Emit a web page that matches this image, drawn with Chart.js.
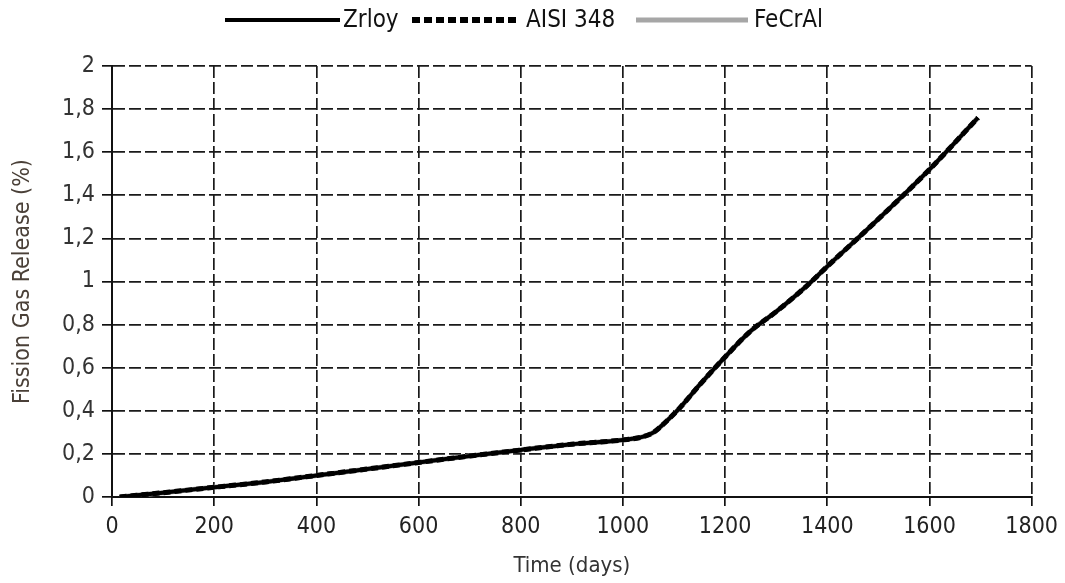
<!DOCTYPE html>
<html>
<head>
<meta charset="utf-8">
<script src="https://cdn.jsdelivr.net/npm/chart.js@4/dist/chart.umd.min.js"></script>
<style>
  html, body { margin: 0; padding: 0; background: #fff; }
  #wrap { width: 1065px; height: 583px; position: relative; }
  #legend {
    position: absolute; top: 0; left: 0; width: 1065px; height: 40px;
    font-family: "DejaVu Sans Condensed", "Liberation Sans", sans-serif;
    font-size: 24px; color: #111;
  }
  #legend svg, #legend span { position: absolute; }
  #legend svg { top: 15px; }
  #legend span { top: 4px; line-height: 30px; }
</style>
</head>
<body>
<div id="wrap">
  <div id="legend"></div>
  <canvas id="fgr"></canvas>
</div>
<script>
// values
const days = [15, 100, 200, 300, 400, 500, 600, 700, 800, 900, 1000, 1040, 1060, 1080, 1110, 1150, 1200, 1250, 1300, 1360, 1400, 1500, 1600, 1695];
const zrloy = [0, 0.02, 0.045, 0.07, 0.1, 0.13, 0.16, 0.19, 0.218, 0.245, 0.265, 0.28, 0.3, 0.34, 0.41, 0.52, 0.65, 0.77, 0.86, 0.98, 1.07, 1.29, 1.52, 1.76];
const aisi348 = [0, 0.02, 0.045, 0.07, 0.1, 0.13, 0.16, 0.19, 0.218, 0.245, 0.265, 0.28, 0.3, 0.34, 0.41, 0.52, 0.65, 0.77, 0.86, 0.98, 1.07, 1.29, 1.52, 1.76];
const fecral = [0, 0.02, 0.045, 0.07, 0.1, 0.13, 0.16, 0.19, 0.218, 0.245, 0.265, 0.28, 0.3, 0.34, 0.41, 0.52, 0.65, 0.77, 0.86, 0.98, 1.07, 1.29, 1.52, 1.76];
const seriesNames = ['Zrloy', 'AISI 348', 'FeCrAl'];

const toPoints = (ys) => days.map((d, i) => ({ x: d, y: ys[i] }));
const cond = '"DejaVu Sans Condensed", "Liberation Sans", sans-serif';

const datasets = [
  {
    label: seriesNames[0],
    data: toPoints(zrloy),
    borderColor: '#000',
    borderWidth: 4,
    order: 2
  },
  {
    label: seriesNames[1],
    data: toPoints(aisi348),
    borderColor: '#000',
    borderWidth: 5,
    borderDash: [7, 4],
    order: 1
  },
  {
    label: seriesNames[2],
    data: toPoints(fecral),
    borderColor: '#a6a6a6',
    borderWidth: 5,
    order: 3
  }
];

// html legend (line sample left / width, text left)
const legendLayout = [
  { x: 225, w: 115, tx: 343, lw: 4 },
  { x: 412, w: 108, tx: 526, lw: 6 },
  { x: 636, w: 112, tx: 754, lw: 5 }
];
const legendEl = document.getElementById('legend');
datasets.forEach((ds, i) => {
  const L = legendLayout[i];
  const dash = ds.borderDash ? 'stroke-dasharray="8 4"' : '';
  legendEl.insertAdjacentHTML('beforeend', `
    <svg style="left:${L.x}px" width="${L.w}" height="10">
      <line x1="0" y1="5" x2="${L.w}" y2="5" stroke="${ds.borderColor}" stroke-width="${L.lw}" ${dash}></line>
    </svg>
    <span style="left:${L.tx}px">${ds.label}</span>`);
});

// solid left / bottom axis lines over the dashed grid
const solidAxes = {
  id: 'solidAxes',
  beforeDatasetsDraw(chart) {
    const { ctx, chartArea: a } = chart;
    ctx.save();
    ctx.strokeStyle = '#111';
    ctx.lineWidth = 2;
    ctx.setLineDash([]);
    ctx.beginPath();
    ctx.moveTo(a.left, a.top);
    ctx.lineTo(a.left, a.bottom);
    ctx.lineTo(a.right, a.bottom);
    ctx.stroke();
    ctx.restore();
  }
};

const ctx = document.getElementById('fgr').getContext('2d');
new Chart(ctx, {
  type: 'line',
  data: { datasets },
  options: {
    responsive: true,
    maintainAspectRatio: false,
    animation: false,
    layout: { padding: { left: 0, right: 31, top: 66, bottom: 4 } },
    elements: {
      point: { radius: 0 },
      line: { cubicInterpolationMode: 'monotone' }
    },
    plugins: {
      tooltip: { enabled: false },
      legend: { display: false }
    },
    scales: {
      x: {
        type: 'linear',
        min: 0,
        max: 1800,
        ticks: {
          stepSize: 200,
          padding: 7,
          color: '#222',
          font: { family: cond, size: 23 },
          callback: (v) => String(v)
        },
        grid: {
          color: '#1a1a1a',
          lineWidth: 1.7,
          tickLength: 9,
          tickColor: '#111',
          tickBorderDash: []
        },
        border: { display: true, color: '#111', width: 2, dash: [12, 4] },
        title: {
          display: true,
          text: 'Time (days)',
          color: '#333',
          font: { family: cond, size: 22 },
          padding: { top: 6, bottom: 0 }
        },
        afterFit(scale) { scale.height = 82; }
      },
      y: {
        min: 0,
        max: 2,
        ticks: {
          stepSize: 0.2,
          padding: 7,
          color: '#333',
          font: { family: cond, size: 23 },
          callback: (v) => {
            const r = Math.round(v * 10) / 10;
            return String(r).replace('.', ',');
          }
        },
        grid: {
          color: '#1a1a1a',
          lineWidth: 1.7,
          tickLength: 10,
          tickColor: '#111',
          tickBorderDash: []
        },
        border: { display: true, color: '#111', width: 2, dash: [12, 4] },
        title: {
          display: true,
          text: 'Fission Gas Release (%)',
          color: '#4a4038',
          font: { family: cond, size: 23 },
          padding: { top: 9, bottom: 0 }
        },
        afterFit(scale) { scale.width = 112; }
      }
    }
  },
  plugins: [solidAxes]
});
</script>
</body>
</html>
